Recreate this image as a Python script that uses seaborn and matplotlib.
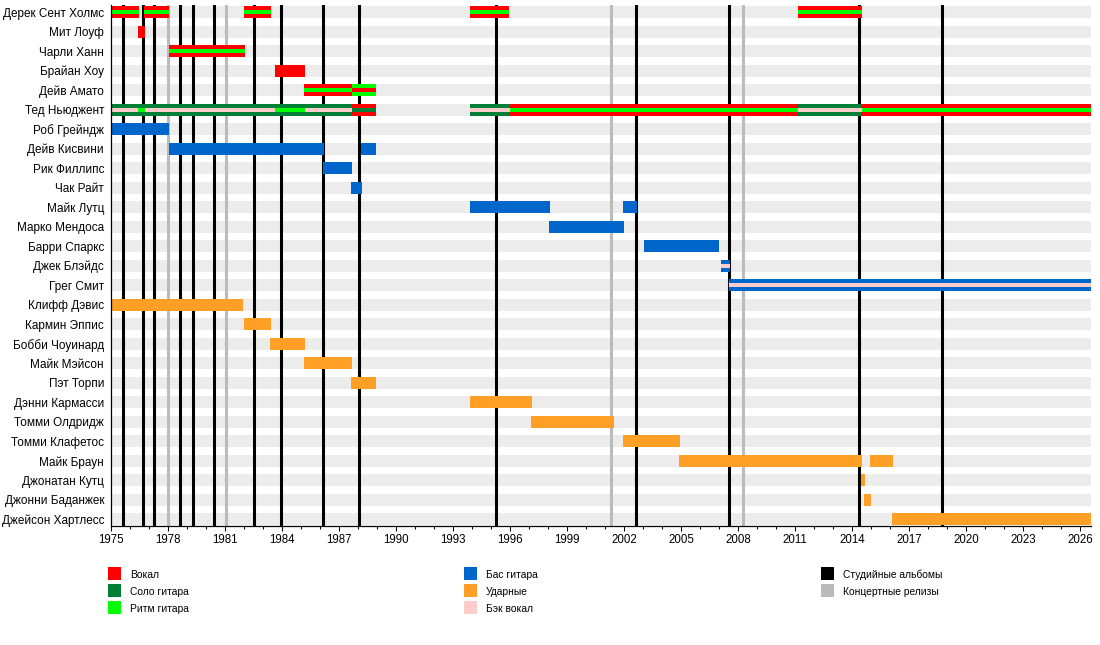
import matplotlib.pyplot as plt
from matplotlib.patches import Rectangle
from matplotlib.ticker import MultipleLocator
import seaborn as sns

# участники сверху вниз
members = [
    "Дерек Сент Холмс", "Мит Лоуф", "Чарли Ханн", "Брайан Хоу", "Дейв Амато",
    "Тед Ньюджент", "Роб Грейндж", "Дейв Кисвини", "Рик Филлипс", "Чак Райт",
    "Майк Лутц", "Марко Мендоса", "Барри Спаркс", "Джек Блэйдс", "Грег Смит",
    "Клифф Дэвис", "Кармин Эппис", "Бобби Чоуинард", "Майк Мэйсон", "Пэт Торпи",
    "Дэнни Кармасси", "Томми Олдридж", "Томми Клафетос", "Майк Браун",
    "Джонатан Кутц", "Джонни Баданжек", "Джейсон Хартлесс",
]

END = 2026.6

# полные полосы: (участник, начало, конец)
vocal_outer = [
    ("Дерек Сент Холмс", 1975.0, 1976.46), ("Дерек Сент Холмс", 1976.74, 1978.05),
    ("Дерек Сент Холмс", 1982.02, 1983.4), ("Дерек Сент Холмс", 1993.9, 1995.95),
    ("Дерек Сент Холмс", 2011.16, 2014.53),
    ("Мит Лоуф", 1976.42, 1976.77),
    ("Чарли Ханн", 1978.05, 1982.05),
    ("Брайан Хоу", 1983.63, 1985.2),
    ("Дейв Амато", 1985.16, 1987.68),
    ("Тед Ньюджент", 1987.68, 1988.95), ("Тед Ньюджент", 1996.0, 2011.16),
    ("Тед Ньюджент", 2014.53, END),
]
lead_outer = [
    ("Тед Ньюджент", 1975.0, 1987.68), ("Тед Ньюджент", 1993.9, 1996.0),
    ("Тед Ньюджент", 2011.16, 2014.53),
]
rhythm_outer = [("Дейв Амато", 1987.68, 1988.95)]
bass_outer = [
    ("Роб Грейндж", 1975.0, 1978.05),
    ("Дейв Кисвини", 1978.05, 1986.2), ("Дейв Кисвини", 1988.16, 1988.95),
    ("Рик Филлипс", 1986.15, 1987.68),
    ("Чак Райт", 1987.63, 1988.2),
    ("Майк Лутц", 1993.9, 1998.1), ("Майк Лутц", 2001.95, 2002.68),
    ("Марко Мендоса", 1998.05, 2002.0),
    ("Барри Спаркс", 2003.05, 2007.0),
    ("Джек Блэйдс", 2007.1, 2007.58),
    ("Грег Смит", 2007.53, END),
]
drums_outer = [
    ("Клифф Дэвис", 1975.0, 1981.95),
    ("Кармин Эппис", 1982.0, 1983.42),
    ("Бобби Чоуинард", 1983.37, 1985.2),
    ("Майк Мэйсон", 1985.16, 1987.68),
    ("Пэт Торпи", 1987.63, 1988.95),
    ("Дэнни Кармасси", 1993.9, 1997.16),
    ("Томми Олдридж", 1997.1, 2001.5),
    ("Томми Клафетос", 2001.95, 2004.95),
    ("Майк Браун", 2004.9, 2014.53), ("Майк Браун", 2014.95, 2016.16),
    ("Джонатан Кутц", 2014.47, 2014.68),
    ("Джонни Баданжек", 2014.63, 2015.0),
    ("Джейсон Хартлесс", 2016.1, END),
]

# узкие внутренние полосы (вторая роль)
backing_inner = [
    ("Тед Ньюджент", 1975.0, 1987.68), ("Тед Ньюджент", 1993.9, 1996.0),
    ("Тед Ньюджент", 2011.16, 2014.53),
    ("Джек Блэйдс", 2007.1, 2007.58), ("Грег Смит", 2007.53, END),
]
rhythm_inner = [
    ("Дерек Сент Холмс", 1975.0, 1976.46), ("Дерек Сент Холмс", 1976.74, 1978.05),
    ("Дерек Сент Холмс", 1982.02, 1983.4), ("Дерек Сент Холмс", 1993.9, 1995.95),
    ("Дерек Сент Холмс", 2011.16, 2014.53),
    ("Чарли Ханн", 1978.05, 1982.05),
    ("Дейв Амато", 1985.16, 1987.68),
    ("Тед Ньюджент", 1976.42, 1976.77), ("Тед Ньюджент", 1983.63, 1985.2),
    ("Тед Ньюджент", 1996.0, 2011.16), ("Тед Ньюджент", 2014.53, END),
]
vocal_inner = [("Дейв Амато", 1987.68, 1988.95)]
lead_inner = [("Тед Ньюджент", 1987.68, 1988.95)]

studio_albums = [1975.65, 1976.7, 1977.28, 1978.65, 1979.3, 1980.44, 1982.53,
                 1983.95, 1986.17, 1988.05, 1995.28, 2002.65, 2007.54, 2014.38,
                 2018.75]
live_albums = [1978.02, 1981.07, 2001.33, 2008.28]

year_ticks = list(range(1975, 2027, 3))

legend_labels = ["Вокал", "Соло гитара", "Ритм гитара", "Бас гитара", "Ударные",
                 "Бэк вокал", "Студийные альбомы", "Концертные релизы"]

C_VOCAL = "#ff0000"
C_LEAD = "#008037"
C_RHYTHM = "#00ff00"
C_BASS = "#0066cc"
C_DRUMS = "#ff9f25"
C_BACK = "#ffcccc"
C_STUDIO = "#000000"
C_LIVE = "#bbbbbb"

sns.set_theme(style="white")
plt.rcParams['font.family'] = ['Liberation Sans', 'DejaVu Sans']

fig = plt.figure(figsize=(11, 6.45), dpi=100)
ax = fig.add_axes([111 / 1100, 1 - 525.5 / 645, 980 / 1100, 520.5 / 645])

X0, X1 = 1975.0, 2026.58
FULL_H = 0.615
INNER_H = 0.205
row = {m: i for i, m in enumerate(members)}

# фоновые полосы
ax.barh(range(len(members)), X1 - X0, left=X0, height=FULL_H,
        color="#ececec", zorder=0, linewidth=0)

for x in studio_albums:
    ax.axvline(x, color=C_STUDIO, lw=2.2, zorder=1)
for x in live_albums:
    ax.axvline(x, color=C_LIVE, lw=2.2, zorder=1)


def draw(segs, color, h, z):
    ys = [row[m] for m, s, e in segs]
    ax.barh(ys, [e - s for m, s, e in segs], left=[s for m, s, e in segs],
            height=h, color=color, linewidth=0, zorder=z)


draw(vocal_outer, C_VOCAL, FULL_H, 3)
draw(lead_outer, C_LEAD, FULL_H, 3)
draw(rhythm_outer, C_RHYTHM, FULL_H, 3)
draw(bass_outer, C_BASS, FULL_H, 3)
draw(drums_outer, C_DRUMS, FULL_H, 3)
draw(backing_inner, C_BACK, INNER_H, 4)
draw(rhythm_inner, C_RHYTHM, INNER_H, 5)
draw(vocal_inner, C_VOCAL, INNER_H, 5)
draw(lead_inner, C_LEAD, INNER_H, 5)

ax.set_xlim(X0, X1)
ax.set_ylim(26.31, -0.36)
ax.set_yticks(range(len(members)))
ax.set_yticklabels(members, fontsize=8.5)
ax.set_xticks(year_ticks)
ax.set_xticklabels([str(y) for y in year_ticks], fontsize=8.3)
ax.xaxis.set_minor_locator(MultipleLocator(1))
ax.tick_params(axis="x", which="major", bottom=True, length=3.6, width=0.75,
               color="black", pad=2.5, labelcolor="black")
ax.tick_params(axis="x", which="minor", bottom=True, length=1.8, width=0.75,
               color="black")
ax.tick_params(axis="y", left=False, length=0, pad=5, labelcolor="black")
for side in ["top", "right"]:
    ax.spines[side].set_visible(False)
for side in ["left", "bottom"]:
    ax.spines[side].set_color("black")
    ax.spines[side].set_linewidth(0.9)
    ax.spines[side].set_zorder(6)
ax.grid(False)

# легенда в три колонки
legend_colors = [C_VOCAL, C_LEAD, C_RHYTHM, C_BASS, C_DRUMS, C_BACK,
                 C_STUDIO, C_LIVE]
col_x = [108, 464, 821]
row_y = [573.5, 590.5, 607.5]
for i, (lab, col) in enumerate(zip(legend_labels, legend_colors)):
    cx = col_x[i // 3]
    cy = row_y[i % 3]
    fig.add_artist(Rectangle((cx / 1100, 1 - (cy + 6.5) / 645), 13 / 1100,
                             13 / 645, transform=fig.transFigure,
                             facecolor=col, edgecolor="none"))
    fig.text((cx + 22) / 1100, 1 - (cy + 1.5) / 645, lab, fontsize=7.4,
             va="center", ha="left", color="black")

fig.savefig("out.png", dpi=100)
